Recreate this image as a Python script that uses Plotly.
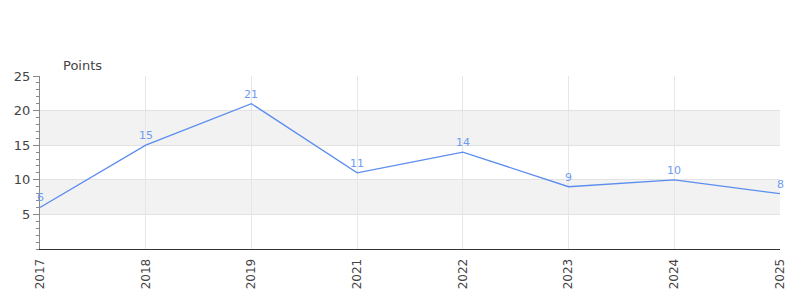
import plotly.graph_objects as go

years = ["2017", "2018", "2019", "2021", "2022", "2023", "2024", "2025"]
points = [6, 15, 21, 11, 14, 9, 10, 8]
band_ranges = [(5, 10), (15, 20)]
y_ticks = [5, 10, 15, 20, 25]

fig = go.Figure()
fig.add_trace(go.Scatter(
    x=years, y=points, mode="lines",
    line=dict(color="#5b8def", width=1.3),
    hoverinfo="skip",
))

for i, v in enumerate(points):
    fig.add_annotation(x=i, y=v, text=str(v), showarrow=False,
                       yanchor="bottom", yshift=1,
                       font=dict(family="DejaVu Sans", size=11, color="#6f9bf0"))

for lo, hi in band_ranges:
    fig.add_shape(type="rect", xref="paper", yref="y", x0=0, x1=1, y0=lo, y1=hi,
                  fillcolor="#f2f2f2", line=dict(width=0), layer="below")

fig.add_annotation(text="Points", xref="paper", yref="paper", x=0.028, y=1.0,
                   xanchor="left", yanchor="bottom", yshift=1, showarrow=False,
                   font=dict(family="DejaVu Sans", size=13, color="#444"))

fig.update_layout(
    width=800, height=300,
    margin=dict(l=40, r=20, t=76, b=51),
    paper_bgcolor="white", plot_bgcolor="white",
    showlegend=False,
    font=dict(family="DejaVu Sans", color="#444"),
)
fig.update_xaxes(
    type="category", range=[0, len(years) - 1],
    showgrid=True, gridcolor="#e6e6e6", gridwidth=1,
    tickangle=-90, tickfont=dict(size=12, color="#444"),
    showline=True, linecolor="#333", linewidth=1,
    ticks="", ticklabelstandoff=4,
)
fig.update_yaxes(
    range=[0, 25], tickvals=y_ticks,
    showgrid=True, gridcolor="#e3e3e3", gridwidth=1,
    zeroline=True, zerolinecolor="#e00000", zerolinewidth=2,
    showline=True, linecolor="#888", linewidth=1,
    ticks="outside", ticklen=6, tickcolor="#888",
    minor=dict(dtick=1, ticks="outside", ticklen=3, tickcolor="#888", showgrid=False),
    tickfont=dict(size=13, color="#444"),
)

fig.write_html("out.html")
